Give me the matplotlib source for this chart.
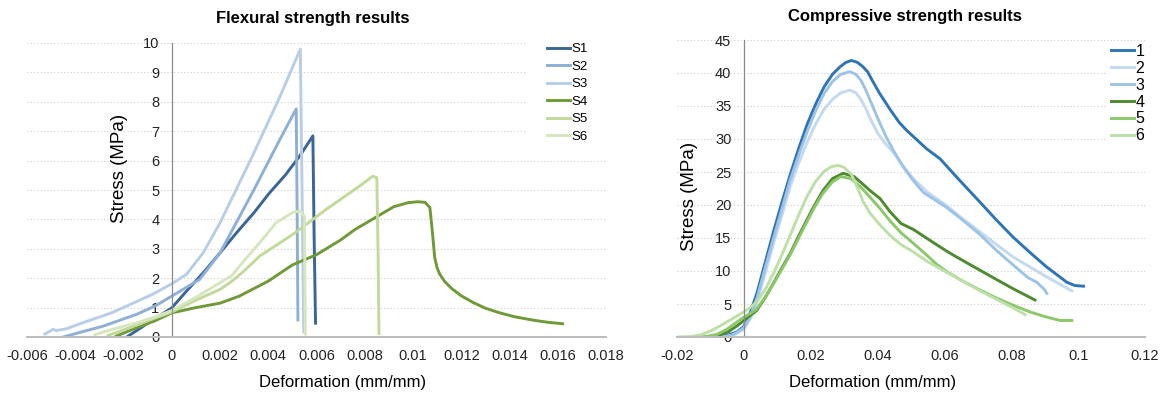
import matplotlib
matplotlib.use("Agg")
import matplotlib.pyplot as plt
from matplotlib.ticker import MultipleLocator, FuncFormatter
from matplotlib.patches import Rectangle

plt.rcParams['font.family'] = ['Liberation Sans', 'DejaVu Sans']

# ---- flexural test (left) ----
flex_labels = ["S1", "S2", "S3", "S4", "S5", "S6"]
flex_colors = ["#3a6598", "#8eb0d8", "#b8cee8", "#6f9a37", "#c3d99b", "#d6e6bf"]

s1_x = [-0.00181, -0.0013, -0.00078, -0.0004, 0, 0.0006, 0.0013, 0.002, 0.00268, 0.0034, 0.00405,
        0.0047, 0.0053, 0.00585, 0.0059, 0.00596]
s1_y = [0.03, 0.3, 0.6, 0.78, 0.99, 1.55, 2.18, 2.86, 3.54, 4.22, 4.9, 5.5, 6.15, 6.84, 3.5, 0.47]

s2_x = [-0.0045, -0.0037, -0.00284, -0.00146, -0.0007, 0, 0.00116, 0.002, 0.00337, 0.00447,
        0.00516, 0.0052, 0.00523]
s2_y = [0.0, 0.18, 0.37, 0.77, 1.05, 1.39, 1.96, 2.86, 4.95, 6.7, 7.76, 4.0, 0.58]

s3_x = [-0.00526, -0.00492, -0.00478, -0.00437, -0.00353, -0.0025, -0.00174, -0.0008, 0, 0.00061,
        0.0013, 0.002, 0.00337, 0.00447, 0.00533, 0.0054, 0.00547]
s3_y = [0.1, 0.26, 0.22, 0.28, 0.53, 0.82, 1.1, 1.45, 1.81, 2.13, 2.86, 3.88, 6.2, 8.15, 9.79, 5.0, 0.18]

s4_x = [-0.0023, -0.0015, -0.0007, 0, 0.001, 0.002, 0.0028, 0.004, 0.005, 0.006, 0.007, 0.0076,
        0.008, 0.0092, 0.0098, 0.0102, 0.0105, 0.0107, 0.0108, 0.0109, 0.011, 0.0111, 0.0113,
        0.0116, 0.012, 0.0125, 0.013, 0.0136, 0.0142, 0.015, 0.0156, 0.0162]
s4_y = [0.03, 0.3, 0.55, 0.82, 1.0, 1.15, 1.39, 1.9, 2.45, 2.8, 3.3, 3.66, 3.85, 4.43, 4.57, 4.6,
        4.58, 4.4, 3.6, 2.7, 2.35, 2.15, 1.9, 1.65, 1.4, 1.17, 0.98, 0.82, 0.69, 0.57, 0.5, 0.45]

s5_x = [-0.00265, -0.0018, -0.001, 0, 0.001, 0.002, 0.0025, 0.003, 0.00364, 0.00502, 0.0064,
        0.00778, 0.00833, 0.0085, 0.00855, 0.00859]
s5_y = [0.05, 0.3, 0.55, 0.85, 1.25, 1.62, 1.9, 2.25, 2.75, 3.49, 4.34, 5.13, 5.47, 5.42, 3.0, 0.12]

s6_x = [-0.00319, -0.0025, -0.00146, -0.0007, 0, 0.001, 0.002, 0.0025, 0.003, 0.00364, 0.00433,
        0.00502, 0.00533, 0.0055, 0.00554]
s6_y = [0.08, 0.25, 0.48, 0.68, 0.9, 1.35, 1.85, 2.1, 2.6, 3.2, 3.89, 4.24, 4.29, 4.1, 0.1]

# ---- compressive test (right) ----
comp_labels = ["1", "2", "3", "4", "5", "6"]
comp_colors = ["#2e75b6", "#c3daf0", "#9dc3e6", "#4e8a2e", "#8cc86a", "#bddfa8"]

c1_x = [-0.008, -0.005, -0.002, 0, 0.002, 0.004, 0.0065, 0.009, 0.0115, 0.014, 0.0165, 0.019,
        0.0215, 0.024, 0.0265, 0.0287, 0.0305, 0.0322, 0.034, 0.0355, 0.037, 0.0385, 0.0405,
        0.0437, 0.0465, 0.0487, 0.0515, 0.0547, 0.0587, 0.0637, 0.0707, 0.0756, 0.0806, 0.0856,
        0.0906, 0.0966, 0.099, 0.1016]
c1_y = [0, 0.2, 0.8, 1.6, 3.8, 6.8, 11.5, 16.2, 20.6, 24.8, 28.7, 32.3, 35.3, 37.9, 39.8, 40.9,
        41.6, 41.9, 41.6, 41.0, 40.2, 38.8, 37.0, 34.5, 32.5, 31.3, 30.0, 28.5, 27.0, 24.2, 20.4,
        17.7, 15.1, 12.8, 10.6, 8.3, 7.8, 7.7]

c2_x = [-0.006, -0.003, 0, 0.002, 0.004, 0.0065, 0.009, 0.0115, 0.0138, 0.0165, 0.019, 0.0215,
        0.024, 0.0265, 0.029, 0.0317, 0.0335, 0.035, 0.0365, 0.038, 0.040, 0.0425, 0.0447, 0.0475,
        0.0507, 0.055, 0.0607, 0.065, 0.0707, 0.0756, 0.0806, 0.0856, 0.0906, 0.0945, 0.0981]
c2_y = [0, 0.3, 1.2, 2.8, 5.4, 9.9, 14.4, 18.6, 22.7, 26.5, 29.6, 32.3, 34.5, 36.0, 37.0, 37.4,
        37.0, 36.0, 34.6, 32.9, 30.9, 29.2, 28.0, 26.0, 24.0, 21.9, 19.9, 18.1, 15.9, 14.0, 12.1,
        10.6, 9.1, 8.0, 7.0]

c3_x = [-0.007, -0.004, -0.002, 0, 0.002, 0.004, 0.0065, 0.009, 0.0115, 0.0138, 0.0165, 0.019,
        0.0215, 0.024, 0.0265, 0.029, 0.0317, 0.0335, 0.035, 0.0365, 0.038, 0.040, 0.0425, 0.0447,
        0.0475, 0.0507, 0.0537, 0.0607, 0.065, 0.0707, 0.0756, 0.0806, 0.085, 0.0876, 0.0891,
        0.0901, 0.0906]
c3_y = [0, 0.2, 0.7, 1.4, 3.2, 6.0, 10.7, 15.2, 19.6, 23.7, 27.7, 31.2, 34.3, 36.9, 38.7, 39.8,
        40.2, 39.8, 38.9, 37.4, 35.6, 33.2, 30.4, 28.3, 25.9, 23.7, 21.9, 19.6, 17.9, 15.5, 13.1,
        10.9, 9.0, 8.3, 7.6, 7.1, 6.6]

c4_x = [-0.012, -0.008, -0.005, -0.002, 0, 0.002, 0.0038, 0.0063, 0.0088, 0.0113, 0.0138, 0.0163,
        0.0188, 0.0213, 0.0237, 0.0265, 0.0297, 0.033, 0.0355, 0.0377, 0.0407, 0.0437, 0.047,
        0.0507, 0.0537, 0.0567, 0.0607, 0.0637, 0.0707, 0.0756, 0.0806, 0.0871]
c4_y = [0, 0.2, 0.7, 1.7, 2.5, 3.3, 4.0, 5.9, 8.1, 10.4, 12.6, 15.2, 17.7, 20.1, 22.2, 24.0, 24.8,
        24.3, 23.2, 22.2, 21.0, 19.0, 17.2, 16.3, 15.3, 14.3, 13.0, 12.1, 10.1, 8.7, 7.3, 5.6]

c5_x = [-0.012, -0.008, -0.005, -0.002, 0, 0.002, 0.0038, 0.0063, 0.0088, 0.0113, 0.0138, 0.0163,
        0.0188, 0.0213, 0.0237, 0.0265, 0.029, 0.032, 0.035, 0.0377, 0.0407, 0.0437, 0.047, 0.0507,
        0.0545, 0.0577, 0.0607, 0.065, 0.0707, 0.0756, 0.0806, 0.0856, 0.09, 0.0946, 0.0981]
c5_y = [0, 0.4, 1.2, 2.3, 3.0, 3.6, 4.2, 6.0, 8.0, 10.2, 12.4, 14.9, 17.4, 19.8, 21.8, 23.5, 24.3,
        24.0, 22.7, 21.2, 19.5, 17.6, 15.8, 14.2, 12.5, 11.0, 9.9, 8.6, 7.1, 5.9, 4.8, 3.8, 3.1,
        2.5, 2.5]

c6_x = [-0.02, -0.016, -0.013, -0.01, -0.007, -0.004, -0.002, 0, 0.002, 0.004, 0.0065, 0.009,
        0.0115, 0.014, 0.0165, 0.019, 0.0215, 0.024, 0.0262, 0.0282, 0.030, 0.0322, 0.034, 0.0357,
        0.0377, 0.0407, 0.0437, 0.047, 0.0507, 0.055, 0.0607, 0.065, 0.0707, 0.0756, 0.0806, 0.0841]
c6_y = [0, 0.05, 0.3, 0.9, 1.7, 2.6, 3.2, 3.8, 4.5, 5.4, 7.3, 9.8, 12.6, 15.6, 18.6, 21.4, 23.6,
        25.1, 25.8, 26.0, 25.7, 24.6, 22.6, 20.5, 18.8, 17.0, 15.4, 14.0, 12.9, 11.4, 9.8, 8.6, 7.0,
        5.7, 4.4, 3.4]

flex = [(s1_x, s1_y), (s2_x, s2_y), (s3_x, s3_y), (s4_x, s4_y), (s5_x, s5_y), (s6_x, s6_y)]
comp = [(c1_x, c1_y), (c2_x, c2_y), (c3_x, c3_y), (c4_x, c4_y), (c5_x, c5_y), (c6_x, c6_y)]

W, H = 1170, 394
fig = plt.figure(figsize=(W / 100, H / 100), dpi=100)
ax1 = fig.add_axes([27 / W, 1 - 337 / H, 579 / W, 294 / H])
ax2 = fig.add_axes([677 / W, 1 - 337 / H, 468 / W, 297 / H])

fmt = FuncFormatter(lambda v, p: f"{round(v, 4) + 0:g}")


def style(ax, xstep, ystep):
    ax.set_axisbelow(True)
    ax.yaxis.grid(True, linestyle=(0, (1, 2)), color="#cfcfcf", lw=0.8)
    for s in ["top", "right"]:
        ax.spines[s].set_visible(False)
    ax.spines["left"].set_position(("data", 0))
    ax.spines["left"].set_color("#8c8c8c")
    ax.spines["left"].set_linewidth(0.9)
    ax.spines["bottom"].set_color("#bdbdbd")
    ax.spines["bottom"].set_linewidth(1.4)
    ax.xaxis.set_major_locator(MultipleLocator(xstep))
    ax.yaxis.set_major_locator(MultipleLocator(ystep))
    ax.xaxis.set_major_formatter(fmt)
    ax.tick_params(length=0, labelsize=10.5, colors="#222222")
    ax.tick_params(axis="x", pad=9)
    ax.tick_params(axis="y", pad=9)


for (x, y), c, lab in zip(flex, flex_colors, flex_labels):
    ax1.plot(x, y, color=c, lw=2.1, label=lab, solid_joinstyle="round")
ax1.set_xlim(-0.006, 0.018)
ax1.set_ylim(0, 10)
style(ax1, 0.002, 1)

for (x, y), c, lab in zip(comp, comp_colors, comp_labels):
    ax2.plot(x, y, color=c, lw=2.1, label=lab, solid_joinstyle="round")
ax2.set_xlim(-0.02, 0.12)
ax2.set_ylim(0, 45)
style(ax2, 0.02, 5)

# white patches behind the legends, hiding the grid
ax1.add_patch(Rectangle((527 / W, 1 - 150 / H), 80 / W, 112 / H, transform=fig.transFigure,
                        facecolor="white", edgecolor="none", zorder=1))
ax2.add_patch(Rectangle((1106 / W, 1 - 152 / H), 40 / W, 108 / H, transform=fig.transFigure,
                        facecolor="white", edgecolor="none", zorder=1))

ax1.legend(loc="upper left", bbox_to_anchor=(543 / W, 1 - 39 / H), bbox_transform=fig.transFigure,
           frameon=False, fontsize=9.5, handlelength=1.75, handletextpad=0.1, labelspacing=0.4,
           borderpad=0.3, borderaxespad=0)
ax2.legend(loc="upper left", bbox_to_anchor=(1106 / W, 1 - 39 / H), bbox_transform=fig.transFigure,
           frameon=False, fontsize=11.5, handlelength=1.45, handletextpad=0.1, labelspacing=0.12,
           borderpad=0.3, borderaxespad=0)

fig.text(313 / W, 1 - 18 / H, "Flexural strength results", ha="center", va="center",
         fontsize=12, fontweight="bold")
fig.text(905 / W, 1 - 16 / H, "Compressive strength results", ha="center", va="center",
         fontsize=12, fontweight="bold")
fig.text(343 / W, 1 - 383 / H, "Deformation (mm/mm)", ha="center", va="center", fontsize=12)
fig.text(873 / W, 1 - 383 / H, "Deformation (mm/mm)", ha="center", va="center", fontsize=12)
fig.text(120 / W, 1 - 168 / H, "Stress (MPa)", ha="center", va="center", rotation=90, fontsize=13.5)
fig.text(689 / W, 1 - 196 / H, "Stress (MPa)", ha="center", va="center", rotation=90, fontsize=13.5)

fig.savefig("out.png", dpi=100)
